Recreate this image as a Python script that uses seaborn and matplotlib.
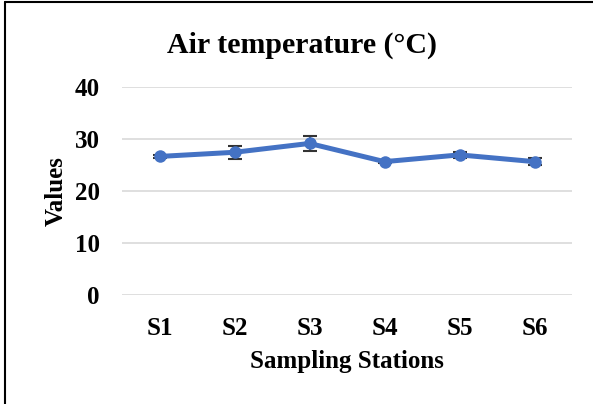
import pandas as pd
import seaborn as sns
import matplotlib.pyplot as plt
from matplotlib.lines import Line2D

# data
stations = ['S1', 'S2', 'S3', 'S4', 'S5', 'S6']
air_temp = [26.7, 27.5, 29.2, 25.7, 27.0, 25.7]
air_temp_err = [0.3, 1.2, 1.5, 0.3, 0.6, 0.7]

df = pd.DataFrame({'Station': stations, 'Temp': air_temp, 'Err': air_temp_err})

sns.set_style('white')
plt.rcParams['font.family'] = ['Liberation Serif', 'DejaVu Serif']
plt.rcParams['font.weight'] = 'bold'
plt.rcParams['text.color'] = 'black'
plt.rcParams['axes.labelcolor'] = 'black'
plt.rcParams['xtick.color'] = 'black'
plt.rcParams['ytick.color'] = 'black'

blue = '#4472C4'

fig = plt.figure(figsize=(5.93, 4.04), dpi=100)
ax = fig.add_axes([122 / 593, 0.269, 450 / 593, 0.515])

x = list(range(len(stations)))
ax.errorbar(x, df['Temp'], yerr=df['Err'], fmt='none', ecolor='#333333',
            elinewidth=1.2, capsize=5, capthick=1.5, zorder=3)
sns.lineplot(x=x, y='Temp', data=df, ax=ax, color=blue, linewidth=3.6,
             marker='o', markersize=9, markeredgewidth=0, zorder=4)

ax.set_xlim(-0.5, 5.5)
ax.set_ylim(0, 40)
ax.set_yticks([0, 10, 20, 30, 40])
ax.set_xticks(x)
ax.set_xticklabels(stations)
ax.yaxis.grid(True, color='#d9d9d9', linewidth=1.2)
ax.set_axisbelow(True)
for s in ax.spines.values():
    s.set_visible(False)
ax.tick_params(axis='both', length=0, labelsize=18)
ax.tick_params(axis='x', pad=15.5)
ax.tick_params(axis='y', pad=16)
for lab in ax.get_xticklabels() + ax.get_yticklabels():
    lab.set_fontweight('bold')

fig.text(302 / 593, 1 - 45 / 404, 'Air temperature (°C)', fontsize=21.5,
         fontweight='bold', ha='center', va='center')
ax.set_xlabel('Sampling Stations', fontsize=18, fontweight='bold', labelpad=7)
ax.set_ylabel('Values', fontsize=18, fontweight='bold', labelpad=5)

# outer frame lines (left and top) as in the reference crop
fig.add_artist(Line2D([0.009, 0.009], [0, 0.995], color='black', linewidth=1.5))
fig.add_artist(Line2D([0.009, 1.0], [0.995, 0.995], color='black', linewidth=1.5))

fig.savefig('out.png', dpi=100)
